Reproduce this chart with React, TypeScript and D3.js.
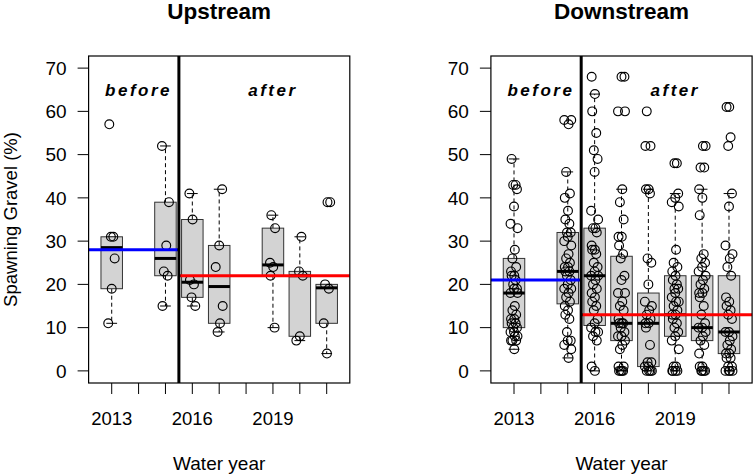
import React from "react";
import * as d3 from "d3";

const FONT = "'Liberation Sans', Arial, Helvetica, sans-serif";

// x positions (1 = 2013 ... 9 = 2021)
const tickPositions = [1, 2, 3, 4, 5, 6, 7, 8, 9];
const tickLabelPositions = [1, 4, 7];
const tickLabels = ["2013", "2016", "2019"];
const yTicks = [0, 10, 20, 30, 40, 50, 60, 70];

// ---------- Upstream ----------
const upPositions = [1, 3, 4, 5, 7, 8, 9];
const upLo = [11, 15, 15, 9, 10, 7, 4];
const upQ1 = [19, 22, 17, 11, 22, 8, 11];
const upMed = [28.5, 26, 20.5, 19.5, 24.5, 22, 19.2];
const upQ3 = [31, 39, 35, 29, 33, 23, 20];
const upHi = [31, 52, 41, 42, 36, 31, 20];
const upPoints = [
  [57, 31, 31, 26, 19, 11],
  [52, 39, 29, 23, 22, 15],
  [41, 35, 21, 20, 17, 15],
  [42, 29, 24, 15, 11, 9],
  [36, 33, 25, 24, 22, 10],
  [31, 23, 22, 8, 7],
  [39, 39, 20, 19, 11, 4],
];
const upBefore = 28;
const upAfter = 22;

// ---------- Downstream ----------
const dnPositions = [1, 3, 4, 5, 6, 7, 8, 9];
const dnLo = [5, 3, 0, 0, 0, 0, 0, 0];
const dnQ1 = [10, 15.5, 10.5, 7, 1, 8, 7, 4];
const dnMed = [18, 23, 22, 11, 11, 13, 10, 9];
const dnQ3 = [26, 32, 33, 26.5, 18, 22, 22, 22];
const dnHi = [49, 46, 64, 42, 42, 41, 42, 41];
const dnPoints = [
  [49, 43, 43, 42, 38, 34, 33, 28, 26, 24, 23, 22, 22, 21, 20, 19, 19, 18, 18, 15, 14, 13, 12, 12, 11, 11, 10, 10, 9, 9, 8, 8, 7, 7, 7, 5],
  [58, 58, 57, 46, 41, 40, 37, 35, 34, 32, 32, 31, 30, 29, 27, 26, 25, 24, 24, 23, 23, 22, 21, 20, 19, 19, 18, 17, 16, 15, 14, 13, 12, 9, 7, 7, 6, 5, 3],
  [68, 64, 60, 55, 51, 49, 46, 37, 35, 33, 33, 32, 29, 28, 28, 27, 25, 24, 23, 22, 22, 21, 20, 19, 18, 17, 16, 15, 14, 12, 11, 10, 9, 9, 8, 7, 1, 0],
  [68, 68, 60, 60, 42, 39, 35, 31, 31, 29, 27, 26, 22, 21, 18, 18, 16, 15, 14, 12, 11, 11, 11, 10, 9, 8, 8, 7, 6, 5, 1, 1, 0, 0, 0, 0],
  [60, 52, 52, 42, 42, 41, 26, 25, 20, 16, 15, 14, 13, 12, 11, 11, 10, 6, 2, 2, 1, 1, 0, 0, 0, 0],
  [48, 48, 41, 40, 39, 38, 28, 25, 24, 23, 22, 21, 20, 19, 19, 18, 17, 16, 16, 15, 14, 13, 13, 12, 11, 10, 9, 8, 7, 5, 1, 1, 0, 0, 0, 0],
  [52, 52, 47, 47, 42, 40, 36, 27, 26, 25, 24, 23, 22, 21, 20, 19, 18, 18, 17, 15, 13, 11, 10, 10, 9, 8, 7, 6, 4, 1, 1, 0, 0, 0, 0],
  [61, 61, 54, 52, 41, 38, 29, 27, 26, 24, 22, 17, 16, 15, 14, 13, 12, 9, 9, 8, 7, 6, 5, 4, 4, 3, 3, 1, 1, 0, 0, 0, 0],
];
const dnBefore = 21;
const dnAfter = 13;

// deterministic jitter pattern (style only)
const JITTER = [-0.09, 0.06, -0.03, 0.11, 0.0, -0.13, 0.13, 0.03, -0.06, 0.08, -0.11, 0.01];

type PanelProps = {
  x0: number;
  x1: number;
  title: string;
  positions: number[];
  lo: number[];
  q1: number[];
  med: number[];
  q3: number[];
  hi: number[];
  points: number[][];
  before: number;
  after: number;
};

function Panel(p: PanelProps) {
  const top = 56;
  const bottom = 383;
  const x = d3.scaleLinear().domain([0.14, 9.86]).range([p.x0, p.x1]);
  const y = d3.scaleLinear().domain([-2.8, 72.8]).range([bottom, top]);
  const halfBox = x(0.4) - x(0);
  const halfStaple = halfBox / 2;
  const cx = (p.x0 + p.x1) / 2;

  return (
    <g>
      <text x={cx} y={18.5} textAnchor="middle" fontFamily={FONT} fontWeight="bold" fontSize={22.5}>
        {p.title}
      </text>
      {/* boxes */}
      {p.positions.map((pos, i) => {
        const xc = x(pos);
        return (
          <g key={"b" + i}>
            <line x1={xc} x2={xc} y1={y(p.q3[i])} y2={y(p.hi[i])} stroke="#000" strokeWidth={1} strokeDasharray="4,3" />
            <line x1={xc} x2={xc} y1={y(p.q1[i])} y2={y(p.lo[i])} stroke="#000" strokeWidth={1} strokeDasharray="4,3" />
            <line x1={xc - halfStaple} x2={xc + halfStaple} y1={y(p.hi[i])} y2={y(p.hi[i])} stroke="#000" strokeWidth={1} />
            <line x1={xc - halfStaple} x2={xc + halfStaple} y1={y(p.lo[i])} y2={y(p.lo[i])} stroke="#000" strokeWidth={1} />
            <rect
              x={xc - halfBox}
              y={y(p.q3[i])}
              width={halfBox * 2}
              height={y(p.q1[i]) - y(p.q3[i])}
              fill="#d3d3d3"
              stroke="#333"
              strokeWidth={1}
            />
            <line x1={xc - halfBox} x2={xc + halfBox} y1={y(p.med[i])} y2={y(p.med[i])} stroke="#000" strokeWidth={3} />
          </g>
        );
      })}
      {/* points */}
      {p.positions.map((pos, i) =>
        p.points[i].map((v, j) => (
          <circle
            key={"p" + i + "_" + j}
            cx={x(pos + JITTER[(j + i * 5) % JITTER.length])}
            cy={y(v)}
            r={4.4}
            fill="none"
            stroke="#000"
            strokeWidth={1.15}
          />
        ))
      )}
      {/* before / after means */}
      <line x1={p.x0} x2={x(3.5)} y1={y(p.before)} y2={y(p.before)} stroke="#0000ff" strokeWidth={3} />
      <line x1={x(3.5)} x2={p.x1} y1={y(p.after)} y2={y(p.after)} stroke="#ff0000" strokeWidth={3} />
      <line x1={x(3.5)} x2={x(3.5)} y1={top} y2={bottom} stroke="#000" strokeWidth={3} />
      {/* frame */}
      <rect x={p.x0} y={top} width={p.x1 - p.x0} height={bottom - top} fill="none" stroke="#000" strokeWidth={1.2} />
      <text x={x(2)} y={y(63.5)} textAnchor="middle" fontFamily={FONT} fontWeight="bold" fontStyle="italic" fontSize={17} letterSpacing={2.5}>
        before
      </text>
      <text x={x(7)} y={y(63.5)} textAnchor="middle" fontFamily={FONT} fontWeight="bold" fontStyle="italic" fontSize={17} letterSpacing={2.5}>
        after
      </text>
      {/* y axis */}
      {yTicks.map((t) => (
        <g key={"y" + t}>
          <line x1={p.x0 - 11} x2={p.x0} y1={y(t)} y2={y(t)} stroke="#000" strokeWidth={1} />
          <text x={p.x0 - 22} y={y(t)} dy="0.35em" textAnchor="end" fontFamily={FONT} fontSize={19}>
            {t}
          </text>
        </g>
      ))}
      {/* x axis */}
      {tickPositions.map((t) => (
        <line key={"x" + t} x1={x(t)} x2={x(t)} y1={bottom} y2={bottom + 11} stroke="#000" strokeWidth={1} />
      ))}
      {tickLabelPositions.map((t, i) => (
        <text key={"xl" + t} x={x(t)} y={424.5} textAnchor="middle" fontFamily={FONT} fontSize={18.5}>
          {tickLabels[i]}
        </text>
      ))}
      <text x={cx} y={470} textAnchor="middle" fontFamily={FONT} fontSize={19}>
        Water year
      </text>
    </g>
  );
}

export default function App() {
  return (
    <svg
      width={754}
      height={476}
      style={{ position: "absolute", left: 0, top: 0, display: "block", background: "#fff" }}
    >
      <rect x={0} y={0} width={754} height={476} fill="#fff" />
      <text
        transform="translate(17,219.5) rotate(-90)"
        textAnchor="middle"
        fontFamily={FONT}
        fontSize={18.5}
      >
        Spawning Gravel (%)
      </text>
      <Panel
        x0={88.6}
        x1={349.8}
        title="Upstream"
        positions={upPositions}
        lo={upLo}
        q1={upQ1}
        med={upMed}
        q3={upQ3}
        hi={upHi}
        points={upPoints}
        before={upBefore}
        after={upAfter}
      />
      <Panel
        x0={490.9}
        x1={752.1}
        title="Downstream"
        positions={dnPositions}
        lo={dnLo}
        q1={dnQ1}
        med={dnMed}
        q3={dnQ3}
        hi={dnHi}
        points={dnPoints}
        before={dnBefore}
        after={dnAfter}
      />
    </svg>
  );
}
